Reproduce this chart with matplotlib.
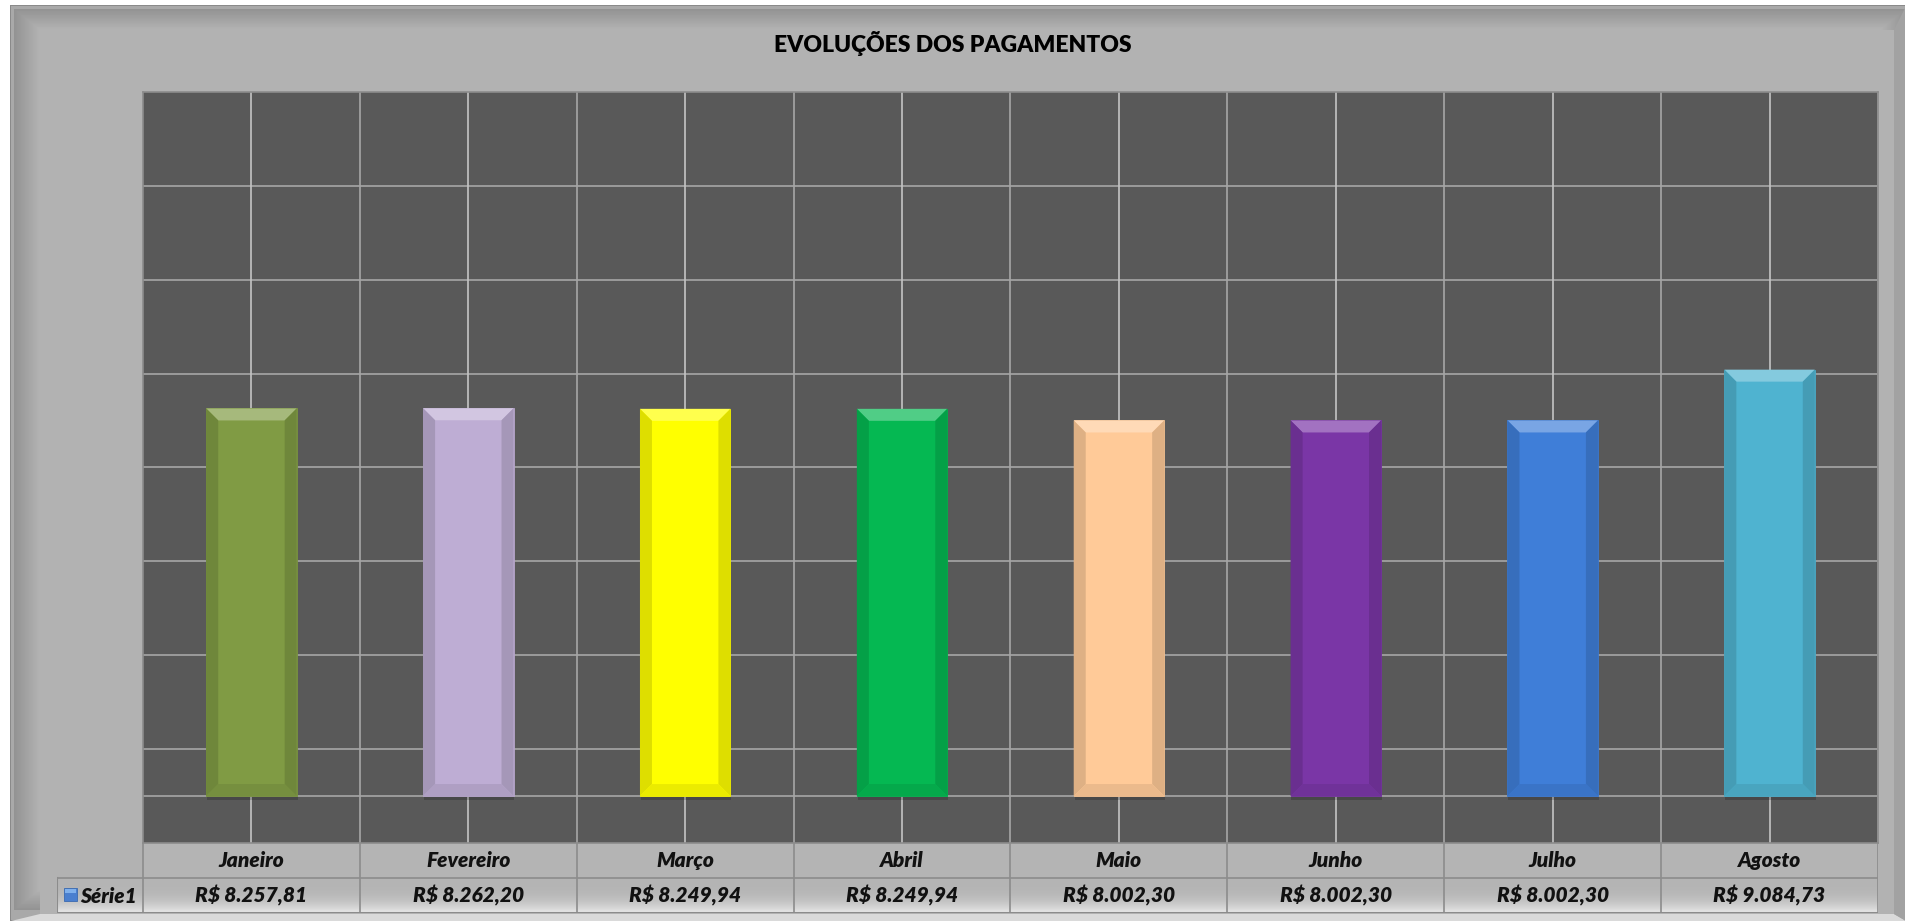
import numpy as np
import matplotlib
matplotlib.use('Agg')
import matplotlib.pyplot as plt
from matplotlib.patches import Rectangle, Polygon
from matplotlib.colors import to_rgb

# dados
meses = ['Janeiro', 'Fevereiro', 'Março', 'Abril', 'Maio', 'Junho', 'Julho', 'Agosto']
valores = [8257.81, 8262.20, 8249.94, 8249.94, 8002.30, 8002.30, 8002.30, 9084.73]
cores = ['#809B44', '#BEADD4', '#FFFF00', '#05B852', '#FFCA98', '#7A36A6', '#3F7ED8', '#4FB3D0']
serie = 'Série1'
titulo = 'EVOLUÇÕES DOS PAGAMENTOS'

W, H = 1906, 921
FONTE = ['Lato', 'DejaVu Sans']


def mistura(c, alvo, t):
    c = np.array(to_rgb(c))
    return tuple(c + (np.array(alvo) - c) * t)


def reais(v):
    s = f'{v:,.2f}'.replace(',', 'X').replace('.', ',').replace('X', '.')
    return 'R$ ' + s


fig = plt.figure(figsize=(W / 100, H / 100), dpi=100)
fig.patch.set_facecolor('white')

# moldura de fundo (coordenadas em pixels)
bg = fig.add_axes([0, 0, 1, 1])
bg.set_xlim(0, W)
bg.set_ylim(H, 0)
bg.axis('off')
bg.add_patch(Rectangle((10, 5), W - 10, H - 5, facecolor='#8A8A8A', edgecolor='none'))
bg.add_patch(Rectangle((11, 6), W - 12, H - 7, facecolor='#A9A9A9', edgecolor='none'))
n = 26
for k in range(n):
    t = k / (n - 1)
    cor = mistura('#939393', (0.698, 0.698, 0.698), t)
    bg.add_patch(Rectangle((14 + k, 9 + k * 0.8), W - 14 - 2 * k, H - 20 - k * 1.6,
                           facecolor=cor, edgecolor='none'))
# faixa clara inferior e direita
bg.add_patch(Polygon([(11, H), (W, H), (W - 12, H - 7), (40, H - 7)],
                     closed=True, facecolor='#DADADA', edgecolor='none'))
bg.add_patch(Polygon([(W, 6), (W, H), (W - 12, H - 7), (W - 12, 30)],
                     closed=True, facecolor='#A2A2A2', edgecolor='none'))
bg.add_patch(Rectangle((40, 30), W - 52, H - 37, facecolor='#B2B2B2', edgecolor='none'))

bg.text(W / 2, 44, titulo, ha='center', va='center', fontsize=16.5,
        fontweight='heavy', family=FONTE, color='black')

# area do grafico
x_esq, x_dir, y_top, y_bot = 143, 1878, 92, 843
ax = fig.add_axes([x_esq / W, 1 - y_bot / H, (x_dir - x_esq) / W, (y_bot - y_top) / H])
ax.set_facecolor('#595959')
ax.set_xlim(-0.5, len(meses) - 0.5)
ax.set_ylim(-1000, 15000)
ax.set_xticks([])
ax.set_yticks([])
for s in ax.spines.values():
    s.set_color('#8C8C8C')
    s.set_linewidth(1.2)

for y in range(1000, 15000, 2000):
    ax.axhline(y, color='#A6A6A6', lw=1.2, zorder=1)
ax.axhline(0, color='#A6A6A6', lw=1.2, zorder=1)
for i in range(len(meses)):
    ax.axvline(i, color='#C4C4C4', lw=1.2, zorder=1)
    ax.axvline(i + 0.5, color='#A6A6A6', lw=1.2, zorder=1)

# barras com chanfro
largura = 0.417
px_x = (x_dir - x_esq) / len(meses)
px_y = (y_bot - y_top) / 16000
bx = 12 / px_x
by = 12 / px_y
sx = 3 / px_x
sy = 4 / px_y

for i, (v, c) in enumerate(zip(valores, cores)):
    x0, x1 = i - largura / 2, i + largura / 2
    ax.add_patch(Rectangle((x0 + sx * 0.3, -sy), largura, v, facecolor='black',
                           alpha=0.18, edgecolor='none', zorder=2))
    ax.bar(i, v, width=largura, color=c, edgecolor=mistura(c, (0, 0, 0), 0.05),
           linewidth=0.6, zorder=3)
    topo = mistura(c, (1, 1, 1), 0.3)
    lado = mistura(c, (0, 0, 0), 0.13)
    base = mistura(c, (0, 0, 0), 0.08)
    ax.add_patch(Polygon([(x0, v), (x1, v), (x1 - bx, v - by), (x0 + bx, v - by)],
                         closed=True, facecolor=topo, edgecolor='none', zorder=4))
    ax.add_patch(Polygon([(x0, 0), (x0, v), (x0 + bx, v - by), (x0 + bx, by)],
                         closed=True, facecolor=lado, edgecolor='none', zorder=4))
    ax.add_patch(Polygon([(x1, 0), (x1, v), (x1 - bx, v - by), (x1 - bx, by)],
                         closed=True, facecolor=lado, edgecolor='none', zorder=4))
    ax.add_patch(Polygon([(x0, 0), (x1, 0), (x1 - bx, by), (x0 + bx, by)],
                         closed=True, facecolor=base, edgecolor='none', zorder=4))

# tabela de dados
x_leg = 57
y_t0, y_t1, y_t2 = 843, 878, 913
tax = fig.add_axes([x_leg / W, 1 - y_t2 / H, (x_dir - x_leg) / W, (y_t2 - y_t0) / H])
x_ini = -0.5 - (x_esq - x_leg) / px_x
tax.set_xlim(x_ini, len(meses) - 0.5)
tax.set_ylim(2, 0)
tax.axis('off')

tax.add_patch(Rectangle((-0.5, 0), len(meses), 1, facecolor='#B4B4B4', edgecolor='none'))
grad = np.linspace(0, 1, 60) ** 3
grad = np.array([mistura('#B4B4B4', (0.92, 0.92, 0.92), t) for t in grad])[:, None, :]
tax.imshow(grad, extent=(x_ini, len(meses) - 0.5, 2, 1), aspect='auto', zorder=0)
tax.set_xlim(x_ini, len(meses) - 0.5)
tax.set_ylim(2, 0)

cor_borda = '#8C8C8C'
tax.plot([-0.5, len(meses) - 0.5], [0, 0], color=cor_borda, lw=1.2)
tax.plot([x_ini, len(meses) - 0.5], [1, 1], color=cor_borda, lw=1.2)
tax.plot([x_ini, len(meses) - 0.5], [2, 2], color=cor_borda, lw=1.5)
tax.plot([x_ini, x_ini], [1, 2], color=cor_borda, lw=1.5)
for i in range(len(meses) + 1):
    tax.plot([i - 0.5, i - 0.5], [0, 2], color=cor_borda, lw=1.2)

estilo = dict(fontsize=15, fontweight='heavy', style='italic', family=FONTE, color='#111111')
for i, (m, v) in enumerate(zip(meses, valores)):
    tax.text(i, 0.5, m, ha='center', va='center', **estilo)
    tax.text(i, 1.5, reais(v), ha='center', va='center', **estilo)

# chave da legenda
tax.add_patch(Rectangle((64, 888), 13, 13, facecolor='#4A7FCF', edgecolor='#3A6AB0', lw=0.6,
                        transform=bg.transData, clip_on=False, zorder=5))
tax.add_patch(Rectangle((65, 889), 11, 4, facecolor='#7FB0EC', edgecolor='none',
                        transform=bg.transData, clip_on=False, zorder=5))
tax.text(80, 896, serie, ha='left', va='center', transform=bg.transData, zorder=5, **estilo)

fig.savefig('out.png', dpi=100)
